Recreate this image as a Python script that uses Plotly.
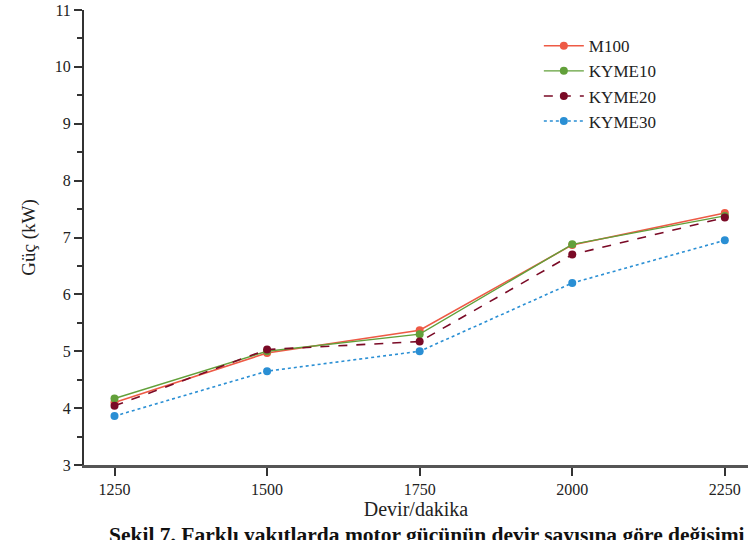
import plotly.graph_objects as go

rpm = [1250, 1500, 1750, 2000, 2250]
m100 = [4.10, 4.97, 5.37, 6.87, 7.43]
kyme10 = [4.17, 5.00, 5.30, 6.88, 7.38]
kyme20 = [4.04, 5.03, 5.17, 6.70, 7.35]
kyme30 = [3.86, 4.65, 5.00, 6.20, 6.95]
x_ticks = [1250, 1500, 1750, 2000, 2250]
y_ticks = [3, 4, 5, 6, 7, 8, 9, 10, 11]
caption = "Şekil 7. Farklı yakıtlarda motor gücünün devir sayısına göre değişimi"

FONT = "Liberation Serif"

series = [
    ("M100", m100, "#ee5a45", "solid", 1.6),
    ("KYME10", kyme10, "#62a03a", "solid", 1.4),
    ("KYME20", kyme20, "#7a0a26", "dash", 1.6),
    ("KYME30", kyme30, "#2a8fd4", "dot", 1.6),
]

fig = go.Figure()
for name, vals, col, dash, w in series:
    fig.add_trace(go.Scatter(
        x=rpm, y=vals, name=name, mode="lines+markers",
        line=dict(color=col, dash=dash, width=w),
        marker=dict(color=col, size=8),
    ))

fig.update_layout(
    width=748, height=540,
    margin=dict(l=84, r=0, t=10, b=75),
    paper_bgcolor="white", plot_bgcolor="white",
    font=dict(family=FONT, color="#222", size=16),
    showlegend=True,
    legend=dict(x=0.685, y=0.96, xanchor="left", yanchor="top",
                font=dict(family=FONT, size=17, color="#222"),
                bgcolor="rgba(0,0,0,0)", tracegroupgap=0, itemwidth=40),
    xaxis=dict(range=[1200, 2288], tickvals=x_ticks, ticks="outside",
               ticklen=8, tickwidth=1.5, tickcolor="#333",
               showline=True, linecolor="#555", linewidth=2.5,
               showgrid=False, zeroline=False,
               tickfont=dict(size=16, family=FONT, color="#222"),
               title=dict(text="Devir/dakika", font=dict(size=20, family=FONT, color="#222"), standoff=6)),
    yaxis=dict(range=[3, 11], tickvals=y_ticks, ticks="outside",
               ticklen=8, tickwidth=1.5, tickcolor="#333",
               showline=True, linecolor="#333", linewidth=2,
               showgrid=False, zeroline=False,
               minor=dict(ticks="outside", ticklen=5, tickcolor="#333", dtick=0.5, showgrid=False),
               tickfont=dict(size=16, family=FONT, color="#222"),
               title=dict(text="Güç (kW)", font=dict(size=19, family=FONT, color="#222"), standoff=14)),
)

fig.add_annotation(
    text="<b>" + caption + "</b>",
    xref="paper", yref="paper", x=0.035, y=-0.124, xanchor="left", yanchor="top",
    showarrow=False, font=dict(family=FONT, size=21.5, color="#111"),
)

fig.write_html("out.html", config={"displayModeBar": False})

with open("out.html", "r", encoding="utf-8") as f:
    html = f.read()
html = html.replace("<body>", '<body style="margin:0;padding:0;">', 1)
with open("out.html", "w", encoding="utf-8") as f:
    f.write(html)
